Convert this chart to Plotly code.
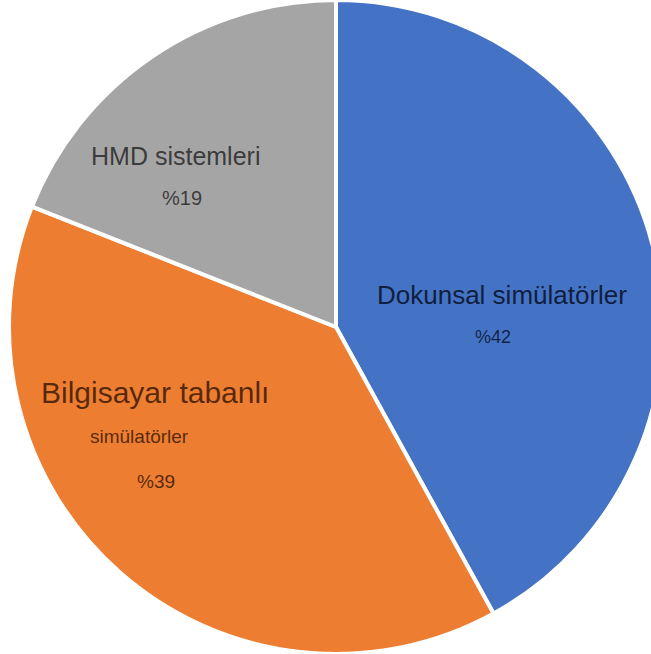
import plotly.graph_objects as go

categories = ["Dokunsal simülatörler", "Bilgisayar tabanlı simülatörler", "HMD sistemleri"]
values = [42, 39, 19]
colors = ["#4472C4", "#ED7D31", "#A5A5A5"]

W, H = 664, 654

fig = go.Figure(go.Pie(
    labels=categories,
    values=values,
    sort=False,
    direction="clockwise",
    rotation=0,
    textinfo="none",
    hoverinfo="label+percent",
    marker=dict(colors=colors, line=dict(color="white", width=4)),
    domain=dict(x=[8 / W, 1], y=[0, 1]),
    showlegend=False,
))

# (text, x_px, y_px, size, color)
labels_px = [
    ("Dokunsal simülatörler", 502, 295, 26, "rgba(10,20,45,0.9)"),
    ("%42", 493, 337, 18, "rgba(10,20,45,0.85)"),
    ("Bilgisayar tabanlı", 155, 392, 30, "rgba(60,25,5,0.85)"),
    ("simülatörler", 139, 436, 19, "rgba(60,25,5,0.85)"),
    ("%39", 156, 481, 19, "rgba(60,25,5,0.85)"),
    ("HMD sistemleri", 175, 156, 25, "rgba(40,40,40,0.85)"),
    ("%19", 182, 198, 20, "rgba(40,40,40,0.85)"),
]
for t, x, y, s, c in labels_px:
    fig.add_annotation(
        text=t, x=x / W, y=1 - y / H, xref="paper", yref="paper",
        xanchor="center", yanchor="middle", showarrow=False,
        font=dict(family="Liberation Sans, Arial, sans-serif", size=s, color=c),
    )

fig.update_layout(
    width=W, height=H,
    margin=dict(l=0, r=0, t=0, b=0),
    paper_bgcolor="white", plot_bgcolor="white",
)

fig.write_html(
    "out.html",
    config={"displayModeBar": False},
    post_script="document.body.style.margin='0';document.body.style.overflow='hidden';document.documentElement.style.overflow='hidden';",
)
